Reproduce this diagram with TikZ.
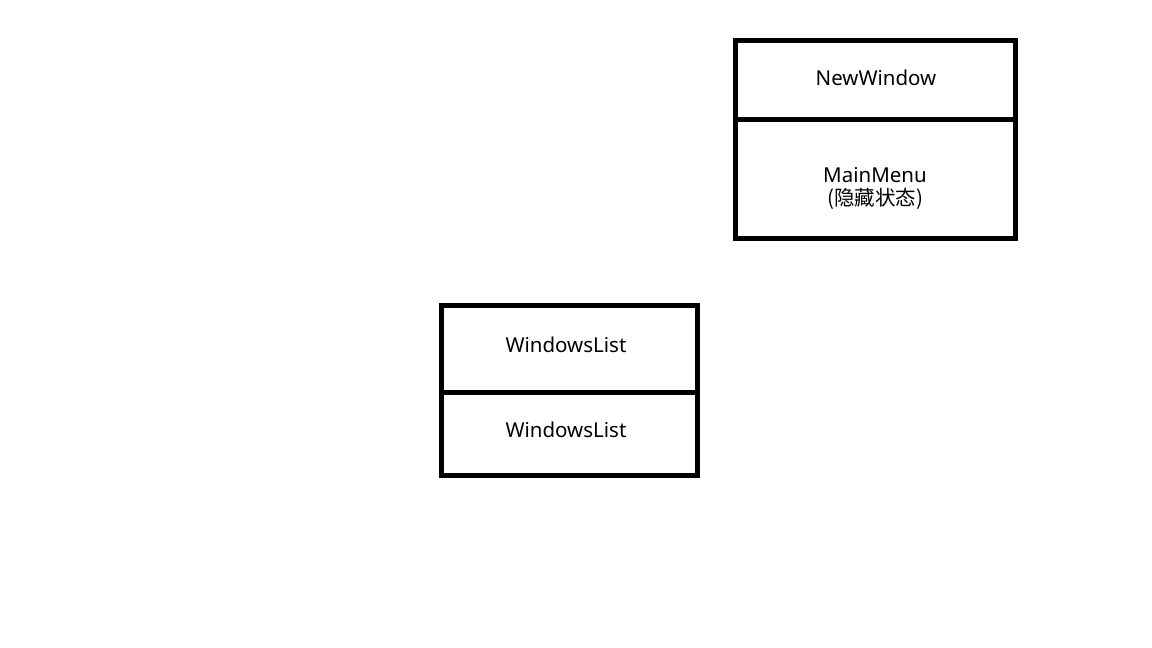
\documentclass[tikz,border=0pt]{standalone}
\usepackage{fontspec}
\setmainfont{Noto Sans}
\newfontfamily\cjk{Noto Sans CJK SC}
\begin{document}
\begin{tikzpicture}[x=1pt,y=-1pt,
  box/.style={draw=black,line width=5pt,fill=white,inner sep=0pt},
  txt/.style={inner sep=0pt,align=center,font=\fontsize{20.5}{23}\selectfont},
]
\useasboundingbox[fill=white] (0,0) rectangle (1152,648);
\node[box,minimum width=280pt,minimum height=79pt] (nw) at (875,79.5) {};
\node[box,minimum width=280pt,minimum height=119pt] (mm) at (875,178.5) {};
\node[box,minimum width=256pt,minimum height=87pt] (wl1) at (569,348.5) {};
\node[box,minimum width=256pt,minimum height=83.5pt] (wl2) at (569,433.75) {};
\node[txt] (nwt) at ([shift={(1,-1.5)}]nw.center) {NewWindow};
\node[txt] (mmt) at ([shift={(0,10)}]mm.center) {MainMenu\\{\cjk (隐藏状态)}};
\node[txt] (wl1t) at ([shift={(-3,-3.5)}]wl1.center) {WindowsList};
\node[txt] (wl2t) at ([shift={(-3,-3.5)}]wl2.center) {WindowsList};
\end{tikzpicture}
\end{document}
